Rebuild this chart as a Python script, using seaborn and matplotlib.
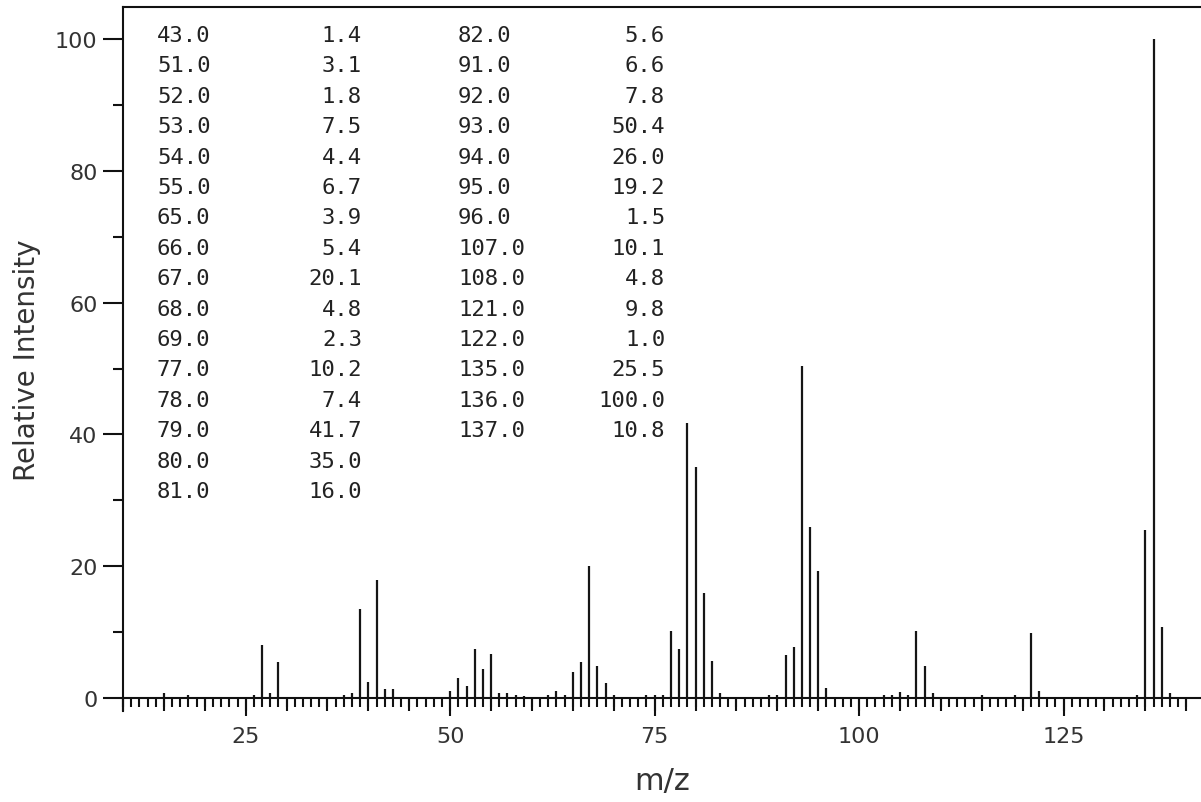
import matplotlib
matplotlib.use("Agg")
import matplotlib.pyplot as plt
import numpy as np
import pandas as pd
import seaborn as sns
from matplotlib.ticker import FixedLocator, NullFormatter

# ---- spectrum data (m/z, relative intensity) ----
mz = [15, 18, 26, 27, 28, 29, 37, 38, 39, 40, 41, 42, 43,
      50, 51, 52, 53, 54, 55, 56, 57, 58, 59, 62, 63, 64, 65, 66, 67, 68, 69, 70,
      74, 75, 76, 77, 78, 79, 80, 81, 82, 83, 89, 90, 91, 92, 93, 94, 95, 96,
      103, 104, 105, 106, 107, 108, 109, 115, 119, 121, 122,
      134, 135, 136, 137, 138]
intensity = [0.7, 0.4, 0.5, 8.1, 0.7, 5.4, 0.4, 0.7, 13.5, 2.4, 17.9, 1.3, 1.4,
             1.0, 3.1, 1.8, 7.5, 4.4, 6.7, 0.7, 0.7, 0.4, 0.3, 0.4, 1.0, 0.4, 3.9, 5.4, 20.1, 4.8, 2.3, 0.4,
             0.4, 0.4, 0.4, 10.2, 7.4, 41.7, 35.0, 16.0, 5.6, 0.7, 0.4, 0.4, 6.6, 7.8, 50.4, 26.0, 19.2, 1.5,
             0.4, 0.4, 0.9, 0.4, 10.1, 4.8, 0.7, 0.4, 0.4, 9.8, 1.0,
             0.4, 25.5, 100.0, 10.8, 0.8]

# ---- peak table shown in the chart ----
table_mz = [43.0, 51.0, 52.0, 53.0, 54.0, 55.0, 65.0, 66.0, 67.0, 68.0, 69.0,
            77.0, 78.0, 79.0, 80.0, 81.0,
            82.0, 91.0, 92.0, 93.0, 94.0, 95.0, 96.0, 107.0, 108.0, 121.0, 122.0,
            135.0, 136.0, 137.0]
table_int = [1.4, 3.1, 1.8, 7.5, 4.4, 6.7, 3.9, 5.4, 20.1, 4.8, 2.3,
             10.2, 7.4, 41.7, 35.0, 16.0,
             5.6, 6.6, 7.8, 50.4, 26.0, 19.2, 1.5, 10.1, 4.8, 9.8, 1.0,
             25.5, 100.0, 10.8]

x_major = [25, 50, 75, 100, 125]
y_major = [0, 20, 40, 60, 80, 100]
y_minor = [10, 30, 50, 70, 90]

sns.set_theme(style="ticks")
plt.rcParams["font.family"] = ["DejaVu Sans"]

W, H = 1201, 803
fig = plt.figure(figsize=(W / 100, H / 100), dpi=100)
ax_left, ax_top, ax_bottom = 123, 8, 712
ax = fig.add_axes([ax_left / W, (H - ax_bottom) / H, 1 - ax_left / W, (ax_bottom - ax_top) / H])
ax.set_facecolor("white")
fig.patch.set_facecolor("white")

ylo, yhi = -1.97, 104.86
ax.set_xlim(10, 141.8)
ax.set_ylim(ylo, yhi)

df = pd.DataFrame({"mz": mz, "intensity": intensity})
ax.vlines(df["mz"], 0, df["intensity"], color="#151515", lw=1.6)

# spines
ink = "#111111"
ax.spines["right"].set_visible(False)
ax.spines["bottom"].set_position(("data", 0))
for s in ["top", "left", "bottom"]:
    ax.spines[s].set_linewidth(1.5)
    ax.spines[s].set_color(ink)

# x ticks: major every 25 (labelled), minor every unit
ax.xaxis.set_major_locator(FixedLocator(x_major))
ax.xaxis.set_minor_locator(FixedLocator(list(range(10, 141))))
ax.xaxis.set_minor_formatter(NullFormatter())
ax.tick_params(axis="x", which="major", direction="out", length=13, width=1.5,
               color=ink, labelsize=16, labelcolor="#333333", pad=7)
ax.tick_params(axis="x", which="minor", direction="out", length=6.5, width=1.5, color=ink)

# mid ticks every 5 via secondary axis at y=0
loc = (0 - ylo) / (yhi - ylo)
sec = ax.secondary_xaxis(loc)
sec.set_xticks(list(range(10, 141, 5)))
sec.xaxis.set_major_formatter(NullFormatter())
sec.tick_params(axis="x", which="major", direction="out", length=9.4, width=1.5, color=ink)
sec.tick_params(axis="x", which="minor", length=0)
for s in sec.spines.values():
    s.set_visible(False)

# y ticks
ax.yaxis.set_major_locator(FixedLocator(y_major))
ax.yaxis.set_minor_locator(FixedLocator(y_minor))
ax.tick_params(axis="y", which="major", direction="out", length=14.4, width=1.5,
               color=ink, labelsize=16, labelcolor="#333333", pad=4)
ax.tick_params(axis="y", which="minor", direction="out", length=7.2, width=1.5, color=ink)

ax.set_xlabel("m/z", fontsize=22, color="#333333", va="center")
ax.xaxis.set_label_coords(0.5, -(782 - ax_bottom) / (ax_bottom - ax_top))
ax.set_ylabel("Relative Intensity", fontsize=20, color="#333333", va="center")
ax.yaxis.set_label_coords(-(ax_left - 27) / (W - ax_left), 0.5)

# peak table
row0, dy = 36, 30.4
mono = ["DejaVu Sans Mono"]
n1 = 16
for i, (m, v) in enumerate(zip(table_mz, table_int)):
    if i < n1:
        r, xl, xr = i, 157, 362
    else:
        r, xl, xr = i - n1, 458, 665
    yy = 1 - (row0 + r * dy) / H
    fig.text(xl / W, yy, f"{m:.1f}", ha="left", va="center", fontsize=16,
             family=mono, color="#222222")
    fig.text(xr / W, yy, f"{v:.1f}", ha="right", va="center", fontsize=16,
             family=mono, color="#222222")

fig.savefig("out.png", dpi=100, facecolor="white")
